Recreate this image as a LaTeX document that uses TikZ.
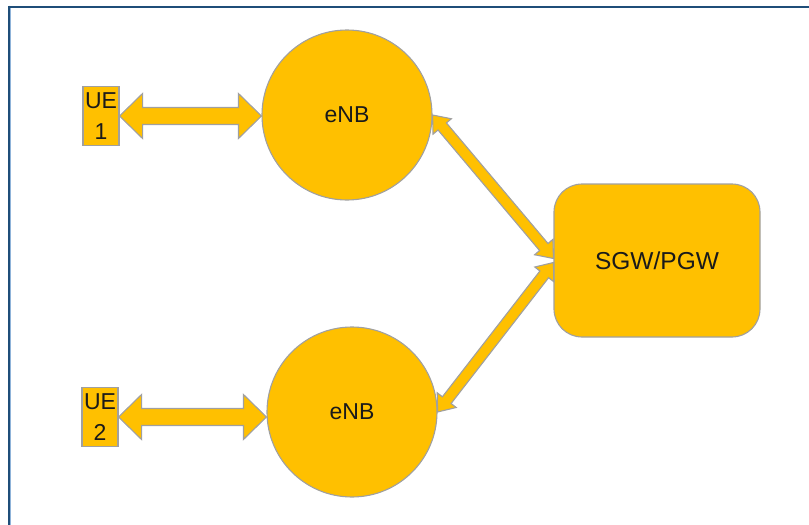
\documentclass[tikz,border=0pt]{standalone}
\usepackage{fontspec}
\setmainfont{Liberation Sans}
\usetikzlibrary{calc}

\definecolor{boxfill}{HTML}{FFC000}
\definecolor{boxedge}{HTML}{A0A0A0}
\definecolor{frameblue}{HTML}{1F4E79}
\definecolor{framelight}{HTML}{8FB3D9}
\definecolor{txt}{HTML}{1A1A1A}

\tikzset{
  unit/.style={draw=boxedge, fill=boxfill, line width=1.1pt, text=txt},
  uebox/.style={unit, rectangle, minimum width=36pt, minimum height=59pt,
    inner sep=0pt, align=center, font=\fontsize{23}{31}\selectfont},
  station/.style={unit, circle, minimum size=170pt, inner sep=0pt,
    font=\fontsize{23}{27}\selectfont},
  gateway/.style={unit, rectangle, rounded corners=28pt, minimum width=206pt,
    minimum height=153pt, font=\fontsize{24.5}{28}\selectfont},
  % block double arrow: #1 shaft half-width, #2 head half-width, #3 head length
  fatarrow/.style n args={3}{draw=boxedge, fill=boxfill, line width=1.1pt,
    line join=miter,
    to path={
      (\tikztostart)
      -- ($(\tikztostart)!#3!(\tikztotarget)!#2!90:(\tikztotarget)$)
      -- ($(\tikztostart)!#3!(\tikztotarget)!#1!90:(\tikztotarget)$)
      -- ($(\tikztotarget)!#3!(\tikztostart)!#1!-90:(\tikztostart)$)
      -- ($(\tikztotarget)!#3!(\tikztostart)!#2!-90:(\tikztostart)$)
      -- (\tikztotarget)
      -- ($(\tikztotarget)!#3!(\tikztostart)!#2!90:(\tikztostart)$)
      -- ($(\tikztotarget)!#3!(\tikztostart)!#1!90:(\tikztostart)$)
      -- ($(\tikztostart)!#3!(\tikztotarget)!#1!-90:(\tikztotarget)$)
      -- ($(\tikztostart)!#3!(\tikztotarget)!#2!-90:(\tikztotarget)$)
      -- cycle}},
  widearrow/.style={fatarrow={8.5pt}{22.5pt}{23pt}},
  linkarrow/.style={fatarrow={5.5pt}{12pt}{15pt}}
}

\begin{document}
\begin{tikzpicture}[x=1pt, y=-1pt]
  \useasboundingbox (0,0) rectangle (809,525);

  % outer frame (top and left edges only)
  \draw[framelight, line width=1pt] (10,8) -- (10,525);
  \draw[frameblue, line width=2pt] (8.5,6.5) -- (809,6.5);
  \draw[frameblue, line width=2pt] (8.5,5.5) -- (8.5,525);

  % network elements
  \node[station] (enb1) at (347,115) {eNB};
  \node[station] (enb2) at (352,412) {eNB};
  \node[gateway] (gw) at (657,260.5) {SGW/PGW};
  \node[uebox] (ue1) at (101,116) {UE\\1};
  \node[uebox] (ue2) at (100,417) {UE\\2};

  % radio links
  \path[widearrow] (ue1.east) to (enb1.west |- ue1.east);
  \path[widearrow] (ue2.east) to (enb2.west |- ue2.east);

  % backhaul links
  \path[linkarrow] (enb1.east) to ([yshift=2pt]gw.west);
  \path[linkarrow] (enb2.east) to ([yshift=-2pt]gw.west);
\end{tikzpicture}
\end{document}
